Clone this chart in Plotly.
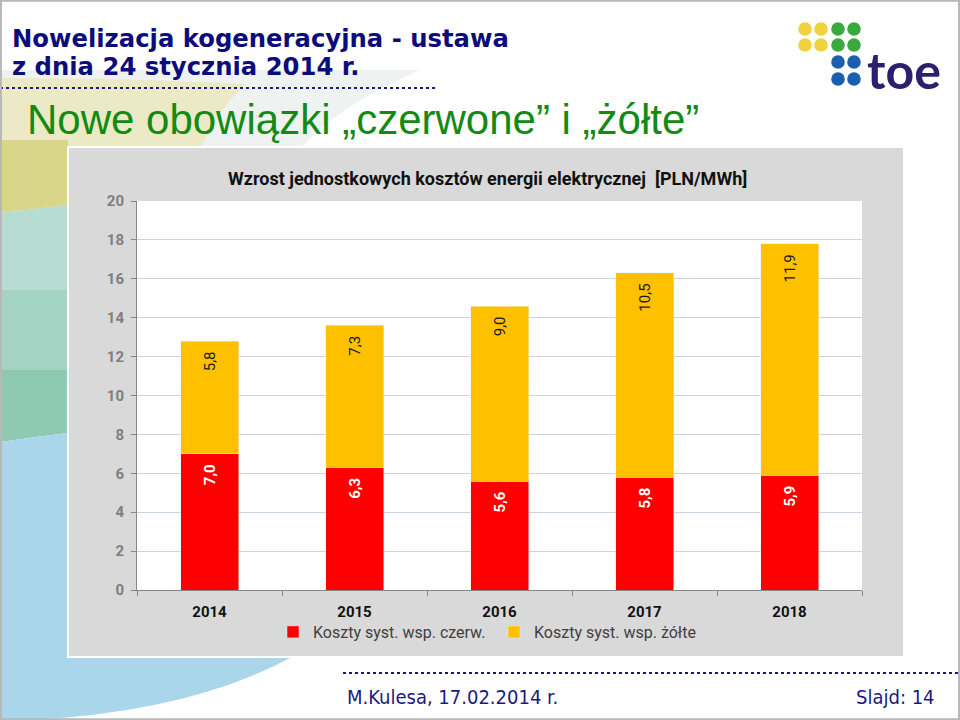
import plotly.graph_objects as go

# ---- data ----
years = ["2014", "2015", "2016", "2017", "2018"]
red_costs = [7.0, 6.3, 5.6, 5.8, 5.9]        # Koszty syst. wsp. czerw.
yellow_costs = [5.8, 7.3, 9.0, 10.5, 11.9]   # Koszty syst. wsp. żółte
red_name = "Koszty syst. wsp. czerw."
yellow_name = "Koszty syst. wsp. żółte"
y_ticks = [0, 2, 4, 6, 8, 10, 12, 14, 16, 18, 20]

W, H = 960, 720
def px(x): return x / W
def py(y): return 1 - y / H

PAD = "\u00a0\u00a0"
def fmt(v):
    return f"{v:.1f}".replace(".", ",") + PAD

CHART_FONT = "Liberation Sans Narrow, Roboto, Arial, sans-serif"

fig = go.Figure()
fig.add_trace(go.Bar(
    x=years, y=red_costs, name=red_name, marker_color="#ff0000",
    text=[fmt(v) for v in red_costs], textposition="inside",
    insidetextanchor="end", textangle=-90,
    textfont=dict(color="white", size=15, family=CHART_FONT, weight="bold"),
    width=0.4, hoverinfo="skip"))
fig.add_trace(go.Bar(
    x=years, y=yellow_costs, name=yellow_name, marker_color="#ffc000",
    text=[fmt(v) for v in yellow_costs], textposition="inside",
    insidetextanchor="end", textangle=-90,
    textfont=dict(color="#1a1a1a", size=15, family=CHART_FONT),
    width=0.4, hoverinfo="skip"))

shapes = []
def path_shape(path, color, opacity=1.0):
    out = []
    for tok in path.split():
        if "," in tok:
            a, b = tok.split(",")
            out.append(f"{px(float(a)):.5f},{py(float(b)):.5f}")
        else:
            out.append(tok)
    shapes.append(dict(type="path", xref="paper", yref="paper", path=" ".join(out),
                       fillcolor=color, line=dict(width=0), layer="below", opacity=opacity))

def rect(x0, y0, x1, y1, fill, line_color=None, lw=0):
    shapes.append(dict(type="rect", xref="paper", yref="paper",
                       x0=px(x0), x1=px(x1), y0=py(y1), y1=py(y0),
                       fillcolor=fill, line=dict(color=line_color or fill, width=lw),
                       layer="below"))

# faint background wash behind title
path_shape("M 0,70 L 420,70 Q 330,110 300,150 L 0,150 Z", "#eef3f1")
# yellow sweep
path_shape("M 0,78 Q 130,78 245,84 Q 215,115 200,150 L 68,150 L 68,205 Q 34,209 0,213 Z", "#eceac6")
path_shape("M 0,140 L 68,140 L 68,205 Q 34,209 0,213 Z", "#d9d68a")
# teal band (stepped for gradient)
path_shape("M 0,213 Q 34,209 68,205 L 68,290 L 0,290 Z", "#b6dcd3")
path_shape("M 0,290 L 68,290 L 68,370 L 0,370 Z", "#a3d3c3")
path_shape("M 0,370 L 68,370 L 68,433 Q 34,437 0,442 Z", "#8ec9b2")
# blue sweep
path_shape("M 0,442 Q 34,437 68,433 L 300,433 L 292,657 Q 190,712 30,720 L 0,720 Z", "#a9d6ea")

# chart box
rect(68, 147, 904, 657, "#d9d9d9", "white", 2)
# plot area
rect(137, 201, 862, 590, "white")

# dotted lines
shapes.append(dict(type="line", xref="paper", yref="paper", x0=px(0), x1=px(436),
                   y0=py(88), y1=py(88), line=dict(color="#1a1a80", width=2, dash="dot")))
shapes.append(dict(type="line", xref="paper", yref="paper", x0=px(343), x1=px(958),
                   y0=py(673), y1=py(673), line=dict(color="#1a1a80", width=2, dash="dot")))

# slide border
shapes.append(dict(type="rect", xref="paper", yref="paper", x0=0.001, x1=0.999,
                   y0=0.001, y1=0.999, line=dict(color="#b8b8b8", width=2),
                   fillcolor="rgba(0,0,0,0)"))

# logo dots
def dot(cx, cy, color, r=6.8):
    shapes.append(dict(type="circle", xref="paper", yref="paper",
                       x0=px(cx - r), x1=px(cx + r), y0=py(cy + r), y1=py(cy - r),
                       fillcolor=color, line=dict(width=0)))
for cx, cy in [(805, 29), (821, 29), (805, 45), (821, 45)]:
    dot(cx, cy, "#f0d33c")
for cx, cy in [(838, 29), (854, 29), (838, 45), (854, 45)]:
    dot(cx, cy, "#3aaa3f")
for cx, cy in [(838, 62), (854, 62), (838, 79), (854, 79)]:
    dot(cx, cy, "#1c5fae")

TITLE_FONT = "DejaVu Sans, Verdana, sans-serif"
FOOT_FONT = "DejaVu Sans Condensed, DejaVu Sans, sans-serif"
annotations = [
    dict(text="toe", x=px(865), y=py(70), xanchor="left", yanchor="middle",
         font=dict(family="Lato, Arial, sans-serif", size=50, color="#2d1e6e", weight="bold")),
    dict(text="Nowelizacja kogeneracyjna - ustawa", x=px(10), y=py(38), xanchor="left",
         yanchor="middle", font=dict(family=TITLE_FONT, size=24.3, color="#0c0c7a", weight="bold")),
    dict(text="z dnia 24 stycznia 2014 r.", x=px(10), y=py(66), xanchor="left",
         yanchor="middle", font=dict(family=TITLE_FONT, size=24.3, color="#0c0c7a", weight="bold")),
    dict(text="Nowe obowiązki „czerwone” i „żółte”", x=px(25), y=py(120), xanchor="left",
         yanchor="middle", font=dict(family="Liberation Sans, Arial, sans-serif", size=42,
                                     color="#128a14")),
    dict(text="Wzrost jednostkowych kosztów energii elektrycznej  [PLN/MWh]", x=px(487),
         y=py(178), xanchor="center", yanchor="middle",
         font=dict(family=CHART_FONT, size=18, color="#111111", weight="bold")),
    dict(text="M.Kulesa, 17.02.2014 r.", x=px(345), y=py(697), xanchor="left",
         yanchor="middle", font=dict(family=FOOT_FONT, size=20, color="#1a1a80")),
    dict(text="Slajd: 14", x=px(937), y=py(697), xanchor="right",
         yanchor="middle", font=dict(family=FOOT_FONT, size=20, color="#1a1a80")),
]
for a in annotations:
    a.update(xref="paper", yref="paper", showarrow=False)

fig.update_layout(
    width=W, height=H, autosize=False, margin=dict(l=0, r=0, t=0, b=0, pad=0, autoexpand=False),
    paper_bgcolor="white", plot_bgcolor="rgba(0,0,0,0)",
    barmode="stack", bargap=0.6,
    shapes=shapes, annotations=annotations,
    showlegend=True,
    legend=dict(orientation="h", x=px(273), y=py(615), xanchor="left", yanchor="top",
                bgcolor="rgba(0,0,0,0)", font=dict(family=CHART_FONT, size=16, color="#404040"),
                itemwidth=30, entrywidth=176, traceorder="normal"),
    xaxis=dict(domain=[px(137), px(862)], showline=True, linecolor="#868686", linewidth=1,
               ticks="outside", tickson="boundaries", ticklen=5, tickcolor="#868686",
               ticklabelstandoff=8,
               tickfont=dict(family=CHART_FONT, size=15, color="#111111", weight="bold"),
               showgrid=False, fixedrange=True),
    yaxis=dict(domain=[py(590), py(201)], range=[0, 20], tickvals=y_ticks,
               showline=True, linecolor="#868686", linewidth=1,
               ticks="outside", ticklen=5, tickcolor="#868686", ticklabelstandoff=4,
               tickfont=dict(family=CHART_FONT, size=15, color="#7f7f7f", weight="bold"),
               showgrid=True, gridcolor="#c9d4e3", gridwidth=1, zeroline=False,
               fixedrange=True),
)

fig.write_html("out.html", config={"responsive": False, "displayModeBar": False})
